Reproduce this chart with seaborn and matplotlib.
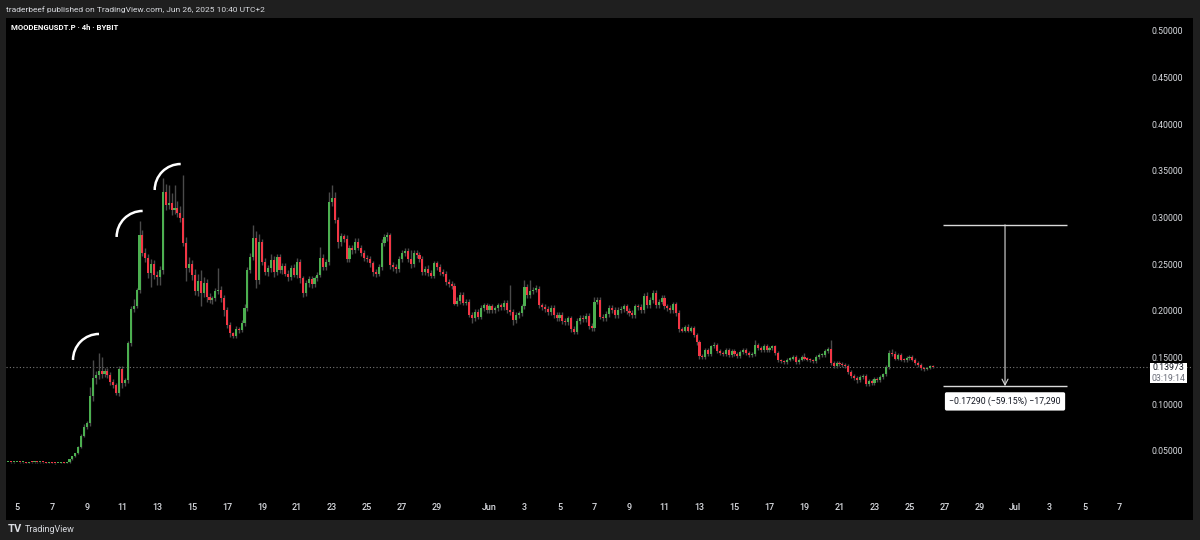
import numpy as np
import pandas as pd
import matplotlib
matplotlib.use("Agg")
import matplotlib.pyplot as plt
import matplotlib.dates as mdates
import matplotlib.patches as patches
import matplotlib.transforms as mtransforms
import seaborn as sns

# 4h closes (one row per day)
close_may = [
    0.0380, 0.0378, 0.0380,                              # May 4 (12h-20h)
    0.0382, 0.0378, 0.0380, 0.0376, 0.0381, 0.0379,      # May 5
    0.0380, 0.0377, 0.0382, 0.0379, 0.0372, 0.0375,      # May 6
    0.0372, 0.0368, 0.0374, 0.0376, 0.0373, 0.0378,      # May 7
    0.0410, 0.0445, 0.0475, 0.0545, 0.0660, 0.0760,      # May 8
    0.0800, 0.1090, 0.1280, 0.1310, 0.1360, 0.1330,      # May 9
    0.1360, 0.1310, 0.1240, 0.1210, 0.1120, 0.1380,      # May 10
    0.1230, 0.1260, 0.1660, 0.2020, 0.2050, 0.2220,      # May 11
    0.2810, 0.2620, 0.2570, 0.2410, 0.2500, 0.2390,      # May 12
    0.2360, 0.2440, 0.3280, 0.3140, 0.3160, 0.3080,      # May 13
    0.3100, 0.3050, 0.3000, 0.2730, 0.2460, 0.2500,      # May 14
    0.2390, 0.2210, 0.2320, 0.2190, 0.2300, 0.2150,      # May 15
    0.2120, 0.2135, 0.2210, 0.2230, 0.2140, 0.2010,      # May 16
    0.1850, 0.1760, 0.1730, 0.1810, 0.1800, 0.1870,      # May 17
    0.2030, 0.2440, 0.2580, 0.2780, 0.2330, 0.2740,      # May 18
    0.2530, 0.2420, 0.2460, 0.2550, 0.2420, 0.2580,      # May 19
    0.2440, 0.2480, 0.2400, 0.2360, 0.2460, 0.2390,      # May 20
    0.2530, 0.2350, 0.2190, 0.2300, 0.2340, 0.2290,      # May 21
    0.2350, 0.2390, 0.2570, 0.2470, 0.2520, 0.3170,      # May 22
    0.3210, 0.2970, 0.2740, 0.2800, 0.2770, 0.2560,      # May 23
    0.2670, 0.2650, 0.2740, 0.2680, 0.2620, 0.2570,      # May 24
    0.2560, 0.2510, 0.2420, 0.2400, 0.2470, 0.2730,      # May 25
    0.2790, 0.2810, 0.2490, 0.2470, 0.2450, 0.2560,      # May 26
    0.2620, 0.2640, 0.2560, 0.2500, 0.2620, 0.2600,      # May 27
    0.2560, 0.2420, 0.2450, 0.2410, 0.2380, 0.2510,      # May 28
    0.2470, 0.2420, 0.2400, 0.2310, 0.2290, 0.2270,      # May 29
    0.2080, 0.2110, 0.2170, 0.2090, 0.2100, 0.1960,      # May 30
    0.1920, 0.1990, 0.1940, 0.2030, 0.2060, 0.2010,      # May 31
]
close_jun = [
    0.2050, 0.2010, 0.2030, 0.2060, 0.2040, 0.2090,      # Jun 1
    0.2010, 0.1990, 0.1900, 0.1960, 0.1980, 0.2050,      # Jun 2
    0.2260, 0.2170, 0.2210, 0.2230, 0.2240, 0.2060,      # Jun 3
    0.2040, 0.2020, 0.1990, 0.2030, 0.1960, 0.1920,      # Jun 4
    0.1960, 0.1890, 0.1880, 0.1920, 0.1810, 0.1780,      # Jun 5
    0.1890, 0.1930, 0.1910, 0.1950, 0.1840, 0.1820,      # Jun 6
    0.2100, 0.2120, 0.1940, 0.1920, 0.1970, 0.2030,      # Jun 7
    0.2010, 0.1960, 0.2010, 0.2020, 0.2050, 0.2000,      # Jun 8
    0.1980, 0.1960, 0.2050, 0.2040, 0.2010, 0.2160,      # Jun 9
    0.2060, 0.2120, 0.2190, 0.2060, 0.2100, 0.2140,      # Jun 10
    0.2050, 0.2030, 0.2010, 0.2070, 0.1980, 0.1810,      # Jun 11
    0.1790, 0.1830, 0.1790, 0.1820, 0.1740, 0.1670,      # Jun 12
    0.1520, 0.1510, 0.1580, 0.1540, 0.1620, 0.1640,      # Jun 13
    0.1570, 0.1550, 0.1540, 0.1580, 0.1530, 0.1570,      # Jun 14
    0.1540, 0.1520, 0.1560, 0.1580, 0.1550, 0.1530,      # Jun 15
    0.1540, 0.1640, 0.1600, 0.1580, 0.1630, 0.1580,      # Jun 16
    0.1600, 0.1620, 0.1550, 0.1470, 0.1460, 0.1450,      # Jun 17
    0.1480, 0.1490, 0.1510, 0.1450, 0.1480, 0.1510,      # Jun 18
    0.1490, 0.1480, 0.1470, 0.1460, 0.1510, 0.1530,      # Jun 19
    0.1530, 0.1570, 0.1590, 0.1440, 0.1410, 0.1440,      # Jun 20
    0.1430, 0.1420, 0.1410, 0.1350, 0.1300, 0.1280,      # Jun 21
    0.1260, 0.1295, 0.1300, 0.1220, 0.1250, 0.1230,      # Jun 22
    0.1270, 0.1260, 0.1295, 0.1320, 0.1400, 0.1550,      # Jun 23
    0.1540, 0.1490, 0.1530, 0.1480, 0.1470, 0.1500,      # Jun 24
    0.1510, 0.1480, 0.1440, 0.1420, 0.1385, 0.1375,      # Jun 25
    0.1388, 0.1410, 0.13973,                             # Jun 26 (0h-8h)
]

# wick lengths beyond the body, in thousandths
upwick_may = [
    0.3, 0.2, 0.3,
    0.3, 0.2, 0.3, 0.2, 0.3, 0.2,
    0.2, 0.3, 0.3, 0.2, 0.2, 0.3,
    0.2, 0.3, 0.2, 0.3, 0.2, 0.4,
    0.5, 0.6, 0.8, 1, 2, 3,
    2, 10, 19, 5, 19, 15,
    3, 3, 4, 3, 2, 3,
    3, 2, 2, 3, 8, 3,
    15, 6, 5, 4, 6, 5,
    4, 4, 14, 8, 19, 10,
    25, 8, 8, 46, 6, 8,
    5, 6, 8, 12, 6, 4,
    4, 3, 4, 23, 4, 3,
    3, 3, 2, 3, 2, 3,
    4, 3, 4, 14, 8, 9,
    3, 4, 3, 6, 4, 3,
    3, 3, 3, 4, 3, 4,
    4, 3, 3, 3, 3, 3,
    3, 3, 12, 4, 4, 11,
    14, 6, 4, 4, 3, 4,
    4, 4, 4, 4, 3, 3,
    3, 3, 3, 3, 3, 4,
    4, 4, 3, 3, 3, 3,
    3, 3, 3, 9, 3, 3,
    3, 3, 3, 4, 3, 3,
    3, 3, 3, 3, 3, 3,
    3, 4, 3, 3, 3, 3,
    3, 3, 3, 3, 3, 3,
]
lowick_may = [
    0.2, 0.3, 0.2,
    0.3, 0.2, 0.3, 0.2, 0.2, 0.3,
    0.3, 0.2, 0.2, 0.3, 0.3, 0.2,
    0.3, 0.3, 0.2, 0.2, 0.3, 0.2,
    0.3, 0.3, 0.5, 0.5, 1, 1,
    2, 3, 5, 6, 4, 5,
    4, 3, 3, 3, 2, 3,
    5, 3, 3, 3, 3, 2,
    3, 3, 5, 6, 15, 5,
    8, 8, 4, 6, 5, 5,
    4, 4, 5, 3, 14, 4,
    6, 4, 5, 14, 4, 5,
    3, 4, 3, 3, 4, 6,
    3, 4, 2, 2, 4, 3,
    3, 3, 3, 3, 8, 4,
    4, 3, 5, 4, 6, 3,
    3, 4, 3, 4, 3, 3,
    4, 5, 4, 3, 4, 4,
    3, 3, 3, 3, 3, 3,
    4, 3, 6, 4, 3, 4,
    4, 4, 3, 3, 3, 3,
    3, 4, 4, 4, 3, 3,
    3, 4, 4, 4, 4, 3,
    3, 3, 3, 4, 3, 3,
    3, 3, 3, 3, 3, 3,
    3, 3, 3, 3, 3, 3,
    2, 3, 3, 3, 3, 2,
    5, 3, 3, 3, 3, 3,
]
upwick_jun = [
    3, 3, 2, 3, 3, 3,
    3, 27, 3, 3, 2, 3,
    7, 3, 12, 3, 4, 3,
    3, 3, 3, 3, 3, 3,
    3, 3, 3, 3, 3, 3,
    3, 3, 3, 3, 3, 3,
    5, 3, 3, 3, 3, 3,
    3, 3, 3, 3, 3, 3,
    3, 3, 3, 3, 3, 3,
    4, 3, 4, 3, 3, 3,
    3, 3, 3, 3, 3, 3,
    2, 2, 3, 2, 2, 2,
    2, 2, 2, 2, 2, 3,
    2, 2, 2, 2, 2, 2,
    2, 2, 2, 2, 2, 2,
    2, 5, 2, 2, 2, 2,
    3, 2, 2, 2, 2, 2,
    2, 2, 2, 2, 2, 2,
    4, 2, 2, 2, 2, 2,
    2, 2, 2, 10, 2, 2,
    2, 2, 2, 2, 2, 2,
    2, 2, 2, 2, 2, 2,
    2, 2, 2, 2, 2, 3,
    4, 3, 2, 2, 2, 2,
    2, 2, 2, 2, 2, 2,
    1, 1, 1,
]
lowick_jun = [
    3, 3, 3, 3, 3, 3,
    3, 3, 5, 3, 3, 3,
    3, 3, 3, 3, 3, 3,
    3, 3, 3, 3, 3, 3,
    3, 3, 3, 3, 3, 3,
    3, 3, 3, 3, 3, 3,
    3, 3, 3, 3, 3, 3,
    3, 3, 3, 3, 3, 3,
    3, 3, 3, 3, 3, 3,
    3, 3, 3, 3, 3, 3,
    3, 3, 3, 3, 3, 3,
    2, 2, 2, 2, 2, 3,
    3, 2, 2, 2, 2, 2,
    2, 2, 2, 2, 2, 2,
    2, 2, 2, 2, 2, 2,
    2, 2, 2, 2, 2, 2,
    2, 2, 2, 2, 2, 2,
    2, 2, 2, 2, 2, 2,
    2, 2, 2, 2, 2, 2,
    2, 2, 2, 2, 2, 2,
    2, 2, 2, 2, 2, 2,
    3, 2, 2, 2, 2, 2,
    2, 2, 2, 2, 2, 2,
    2, 2, 2, 2, 2, 2,
    2, 2, 2, 2, 2, 2,
    1, 1, 1,
]
first_open = 0.0380
last_price = 0.13973
countdown = "03:19:14"

# price ticks on the right scale
price_ticks = [0.05, 0.10, 0.15, 0.20, 0.25, 0.30, 0.35, 0.40, 0.45, 0.50]

# measure tool drawn on the chart
ruler_top = 0.2923
ruler_change = -0.1729
ruler_start, ruler_mid, ruler_end = "2025-06-26 22:00", "2025-06-30 11:00", "2025-07-04 00:00"

# the three hand drawn arcs over the tops (center date, center price)
arc_dates = ["2025-05-09 16:28", "2025-05-12 04:19", "2025-05-14 08:30"]
arc_prices = [0.1475, 0.2793, 0.3296]

# build OHLC
close = np.array(close_may + close_jun)
open_ = np.concatenate([[first_open], close[:-1]])
high = np.maximum(open_, close) + np.array(upwick_may + upwick_jun) / 1000
low = np.minimum(open_, close) - np.array(lowick_may + lowick_jun) / 1000
times = pd.date_range("2025-05-04 12:00", periods=len(close), freq="4h")
x = mdates.date2num(times)

GREEN = "#4caf50"
RED = "#f23645"
TEXT = "#d9dbe0"
BORDER = "#1f1f1f"

sns.set_theme(style="dark", rc={"axes.facecolor": "black", "figure.facecolor": BORDER})
plt.rcParams["font.family"] = ["Roboto", "DejaVu Sans"]

fig = plt.figure(figsize=(12, 5.4), dpi=100)
ax = fig.add_axes([6 / 1200, 20 / 540, 1187 / 1200, 502 / 540])
ax.set_facecolor("black")
for s in ax.spines.values():
    s.set_visible(False)

# candles
ax.vlines(x, low, high, colors="#4a4a4a", linewidth=1.0, zorder=2)
body_colors = np.where(close >= open_, GREEN, RED)
ax.bar(x, np.maximum(np.abs(close - open_), 0.0011), bottom=np.minimum(open_, close),
       width=0.115, color=body_colors, linewidth=0, zorder=3)

# current price line
ax.axhline(last_price, color="#777777", linestyle=(0, (1, 2)), linewidth=0.8, zorder=1)

# scales
day0 = mdates.date2num(pd.Timestamp("2025-05-05"))
ax.set_xlim(day0 + (6 - 17) / 17.5, day0 + (1193 - 17) / 17.5)
ax.set_ylim(0.10 - (520 - 404.3) / 933.3, 0.10 + (404.3 - 18) / 933.3)

tick_dates = ([pd.Timestamp(2025, 5, d) for d in range(5, 30, 2)]
              + [pd.Timestamp(2025, 6, d) for d in range(1, 30, 2)]
              + [pd.Timestamp(2025, 7, d) for d in range(1, 8, 2)])
tick_labels = [t.strftime("%b") if t.day == 1 else str(t.day) for t in tick_dates]
ax.set_xticks(mdates.date2num(tick_dates), tick_labels)
ax.tick_params(axis="x", length=0, pad=-12.5, labelsize=6.5, labelcolor=TEXT)
for lbl in ax.get_xticklabels():
    lbl.set_fontweight("medium")

ax.yaxis.tick_right()
ax.set_yticks(price_ticks, [f"{v:.5f}" for v in price_ticks])
ax.tick_params(axis="y", length=0, pad=-7, labelsize=6.3, labelcolor=TEXT)
for lbl in ax.get_yticklabels():
    lbl.set_horizontalalignment("right")
ax.grid(False)

# last price tag on the scale
tr = mtransforms.blended_transform_factory(ax.transAxes, ax.transData)
ax.add_patch(patches.Rectangle((0.9638, 0.1228), 0.0312, 0.0215, transform=tr,
                               facecolor="white", edgecolor="none", zorder=5))
ax.text(0.9794, 0.1389, f"{last_price:.5f}", transform=tr, ha="center", va="center",
        fontsize=6.3, color="#131722", zorder=6)
ax.text(0.9794, 0.1276, countdown, transform=tr, ha="center", va="center",
        fontsize=6.3, color="#6a6d78", zorder=6)

# measure tool
r0, rm, r1 = mdates.date2num(pd.to_datetime([ruler_start, ruler_mid, ruler_end]))
ruler_bottom = ruler_top + ruler_change
ax.hlines([ruler_top, ruler_bottom], r0, r1, colors="#d9d9d9", linewidth=1.0, zorder=4)
ax.annotate("", xy=(rm, ruler_bottom), xytext=(rm, ruler_top),
            arrowprops=dict(arrowstyle="->,head_length=0.35,head_width=0.18",
                            color="#d9d9d9", lw=0.8, shrinkA=0, shrinkB=0), zorder=4)
pct = ruler_change / ruler_top * 100
ticks = round(ruler_change / 0.00001)
label = f"{ruler_change:.5f} ({pct:.2f}%) {ticks:,}".replace("-", "\u2212")
ax.text(rm, ruler_bottom - 0.0163, label, ha="center", va="center", fontsize=6.3,
        color="#131722", zorder=6,
        bbox=dict(boxstyle="round,pad=0.5,rounding_size=0.2", fc="white", ec="none"))

# arcs drawn over the tops
for d, p in zip(arc_dates, arc_prices):
    cx = mdates.date2num(pd.Timestamp(d))
    ax.add_patch(patches.Arc((cx, p), 2 * 26 / 17.5, 2 * 26 / 933.3, theta1=90, theta2=180,
                             color="white", linewidth=1.8, zorder=5))

# header and footer
fig.text(6 / 1200, 1 - 10 / 540, "traderbeef published on TradingView.com, Jun 26, 2025 10:40 UTC+2",
         fontsize=6.0, color=TEXT, va="center", ha="left")
fig.text(11 / 1200, 1 - 27 / 540, "MOODENGUSDT.P \u00b7 4h \u00b7 BYBIT",
         fontsize=5.6, color="white", fontweight="bold", va="center", ha="left")
fig.text(8 / 1200, 1 - 529 / 540, "TV", fontsize=8, color=TEXT, fontweight="bold", va="center")
fig.text(25 / 1200, 1 - 529 / 540, "TradingView", fontsize=6.5, color=TEXT, va="center")

fig.savefig("out.png", dpi=100, facecolor=BORDER)
